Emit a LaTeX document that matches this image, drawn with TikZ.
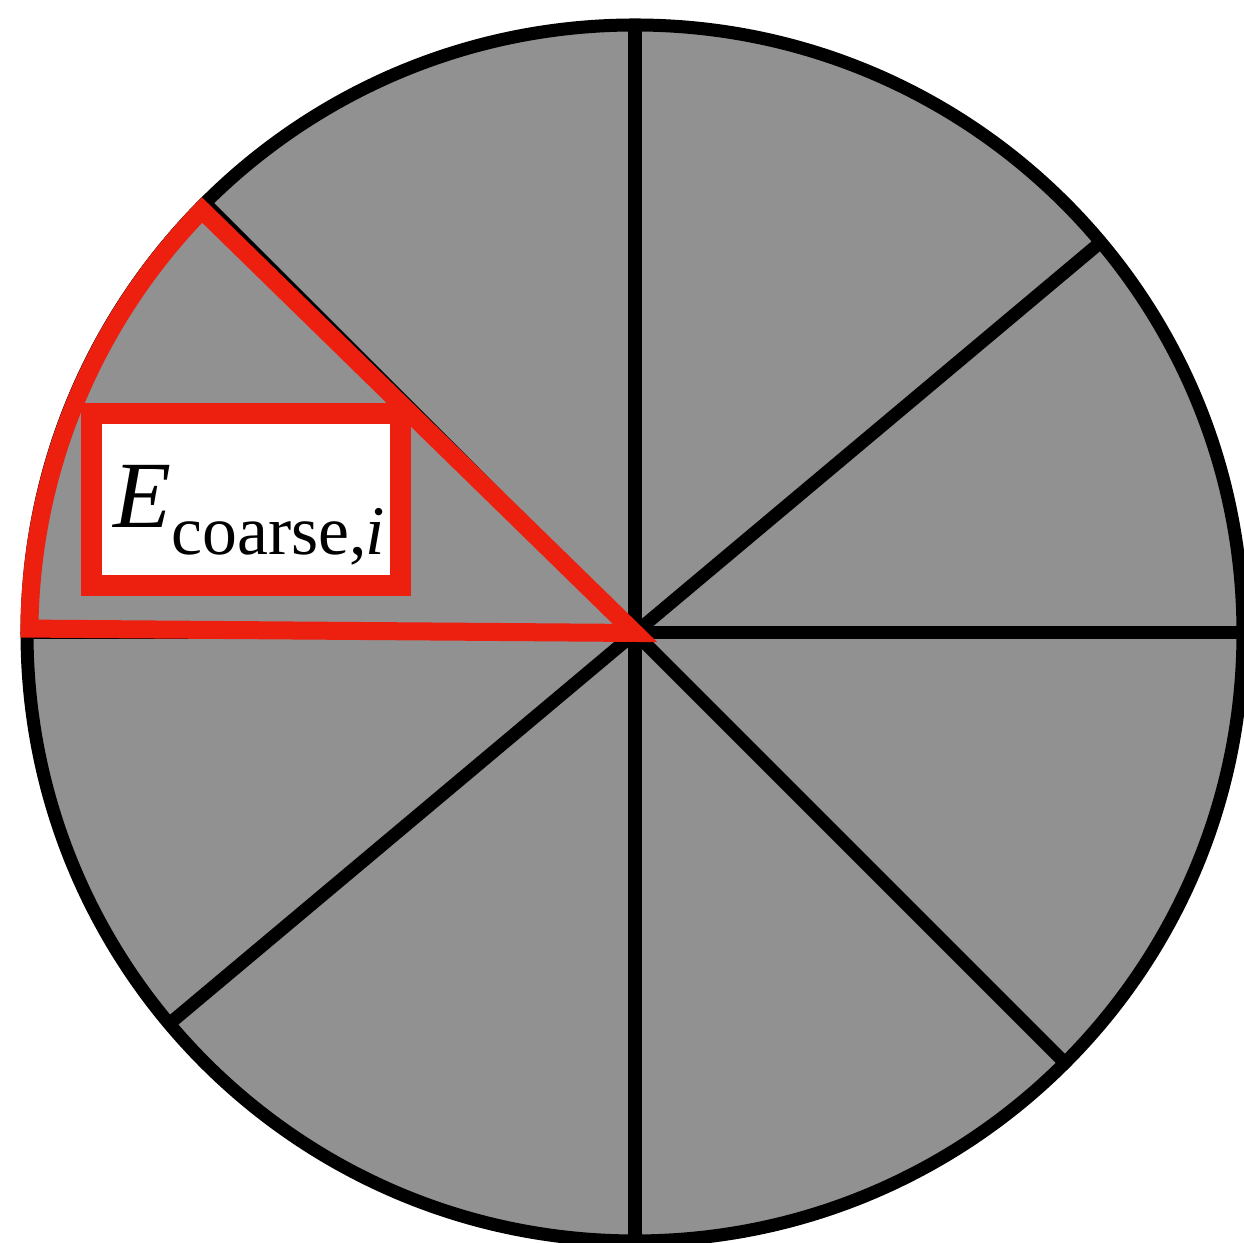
\documentclass[tikz,border=0pt]{standalone}
\usepackage{fontspec}
\setmainfont{Liberation Serif}
\usetikzlibrary{calc}
\definecolor{sectorgray}{RGB}{145,145,145}
\definecolor{markred}{RGB}{237,32,16}
\begin{document}
\begin{tikzpicture}[x=0.01cm,y=0.01cm,
  outline/.style={draw=black,line width=0.13cm},
  spoke/.style={draw=black,line width=0.13cm},
  redmark/.style={draw=markred,line width=0.18cm,line join=miter},
  labelbox/.style={draw=markred,fill=white,line width=0.21cm,inner sep=0pt,
    minimum width=3.085cm,minimum height=1.72cm}]
\useasboundingbox (0,0) rectangle (1244,1243);
\coordinate (O) at (635,610);
\fill[sectorgray] (O) circle[radius=608];
\foreach \a/\n in {0/e,40/ne,90/n,135/nw,180/w,220/sw,270/s,315/se}{
  \coordinate (r\n) at ($(O)+(\a:608)$);
  \draw[spoke] (O) -- (r\n);
}
\draw[outline] (O) circle[radius=608];
\coordinate (Rtop) at (202,1033);
\draw[redmark] (O) -- (Rtop) arc[start angle=135.7,end angle=179.5,radius=607] -- cycle;
\node[labelbox] (box) at (245.75,743.5) {};
\node[anchor=base west,inner sep=0pt] (lbl) at (113,715)
  {\fontsize{27pt}{30pt}\selectfont\textit{E}\raisebox{-0.27cm}{\fontsize{19.8pt}{22pt}\selectfont coarse,\kern-0.5pt\textit{i}}};
\end{tikzpicture}
\end{document}
